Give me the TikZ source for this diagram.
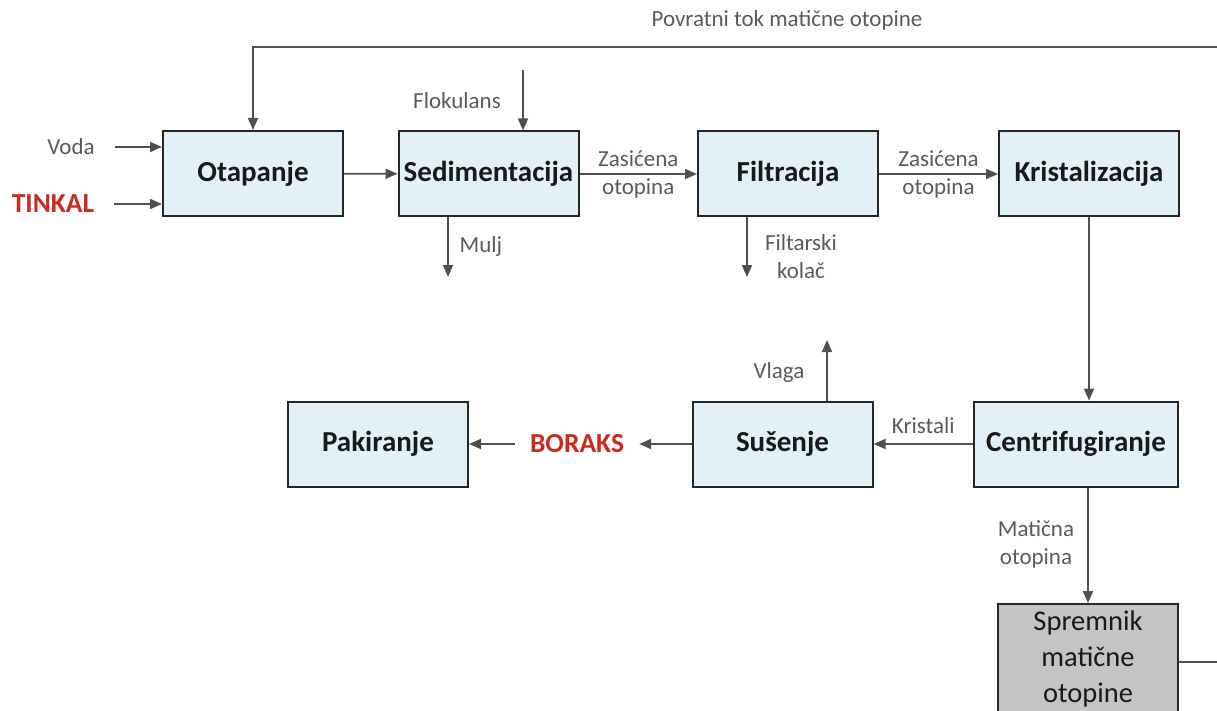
\documentclass[tikz,border=0pt]{standalone}
\usepackage{fontspec}
\setmainfont{Carlito}
\usetikzlibrary{arrows.meta,positioning}
\definecolor{boxblue}{HTML}{E2F0F8}
\definecolor{tankgray}{HTML}{C3C4C4}
\definecolor{linegray}{HTML}{4F4F4F}
\definecolor{txtgray}{HTML}{5A5A5A}
\definecolor{borared}{HTML}{CC2A1E}

\begin{document}
\begin{tikzpicture}[x=1pt,y=-1pt,
		proc/.style={draw=black!85,line width=2pt,fill=boxblue,minimum width=180pt,minimum height=85pt,inner sep=0pt,text=black!90,font=\fontsize{29}{30}\selectfont\bfseries},
		tank/.style={proc,fill=tankgray,minimum height=109pt,align=center,font=\fontsize{28.5}{36}\selectfont},
		flow/.style={draw=linegray,line width=1.8pt,-{Triangle[length=12pt,width=10pt]}},
		pipe/.style={draw=linegray,line width=1.8pt},
		lbl/.style={text=txtgray,font=\fontsize{23}{28}\selectfont,align=center,inner sep=0pt},
		feed/.style={text=borared,font=\fontsize{27.5}{30}\selectfont\bfseries,inner ysep=0pt}]
	\useasboundingbox (0,0) rectangle (1217,711);
	% process boxes
	\node[proc] (otap) at (253,173.5) {Otapanje};
	\node[proc] (sedi) at (488.5,174) {Sedimentacija};
	\node[proc] (filt) at (788,174) {Filtracija};
	\node[proc] (kris) at (1089,174) {Kristalizacija};
	\node[proc,minimum width=204pt] (cent) at (1076,444) {Centrifugiranje};
	\node[proc] (suse) at (782.5,444) {Sušenje};
	\node[proc] (paki) at (378,444) {Pakiranje};
	\node[tank] (spre) at (1088,658.5) {Spremnik\\matične\\otopine};
	% inputs
	\node[lbl,inner xsep=20pt] (voda) at (71,147) {Voda};
	\node[feed,inner xsep=20pt] (tink) at (53,204) {TINKAL};
	\draw[flow] (voda) -- (voda -| otap.west);
	\draw[flow] (tink) -- (tink -| otap.west);
	\node[lbl] (floc) at (457,101) {Flokulans};
	\coordinate (flocS) at (523,70);
	\draw[flow] (flocS) -- (flocS |- sedi.north);
	% recycle line
	\node[lbl] (povr) at (787,20) {Povratni tok matične otopine};
	\coordinate (fbR) at (1217,47);
	\draw[flow] (fbR) -| (otap.north);
	% main line
	\draw[flow] (otap) -- (sedi);
	\draw[flow] (sedi) -- node[lbl] {Zasićena\\otopina} (filt);
	\draw[flow] (filt) -- node[lbl] {Zasićena\\otopina} (kris);
	\draw[flow] (kris.south) -- (kris.south |- cent.north);
	\draw[flow] (cent) -- node[lbl,above=9pt] {Kristali} (suse);
	\node[feed,inner xsep=15pt] (bor) at (577,444) {BORAKS};
	\draw[flow] (suse) -- (bor);
	\draw[flow] (bor) -- (paki);
	% outputs
	\coordinate (muljE) at (448,277);
	\draw[flow] (sedi.south -| muljE) -- (muljE);
	\node[lbl] (mulj) at (481,246) {Mulj};
	\coordinate (kolE) at (747,277);
	\draw[flow] (filt.south -| kolE) -- (kolE);
	\node[lbl] (kol) at (801,257) {Filtarski\\kolač};
	\coordinate (vlagE) at (827,340);
	\draw[flow] (suse.north -| vlagE) -- (vlagE);
	\node[lbl] (vlag) at (779,372) {Vlaga};
	% mother liquor
	\draw[flow] (spre.north |- cent.south) -- (spre.north);
	\node[lbl] (mat) at (1036,544) {Matična\\otopina};
	\coordinate (sprR) at (1217,662);
	\draw[pipe] (sprR -| spre.east) -- (sprR);
\end{tikzpicture}
\end{document}
